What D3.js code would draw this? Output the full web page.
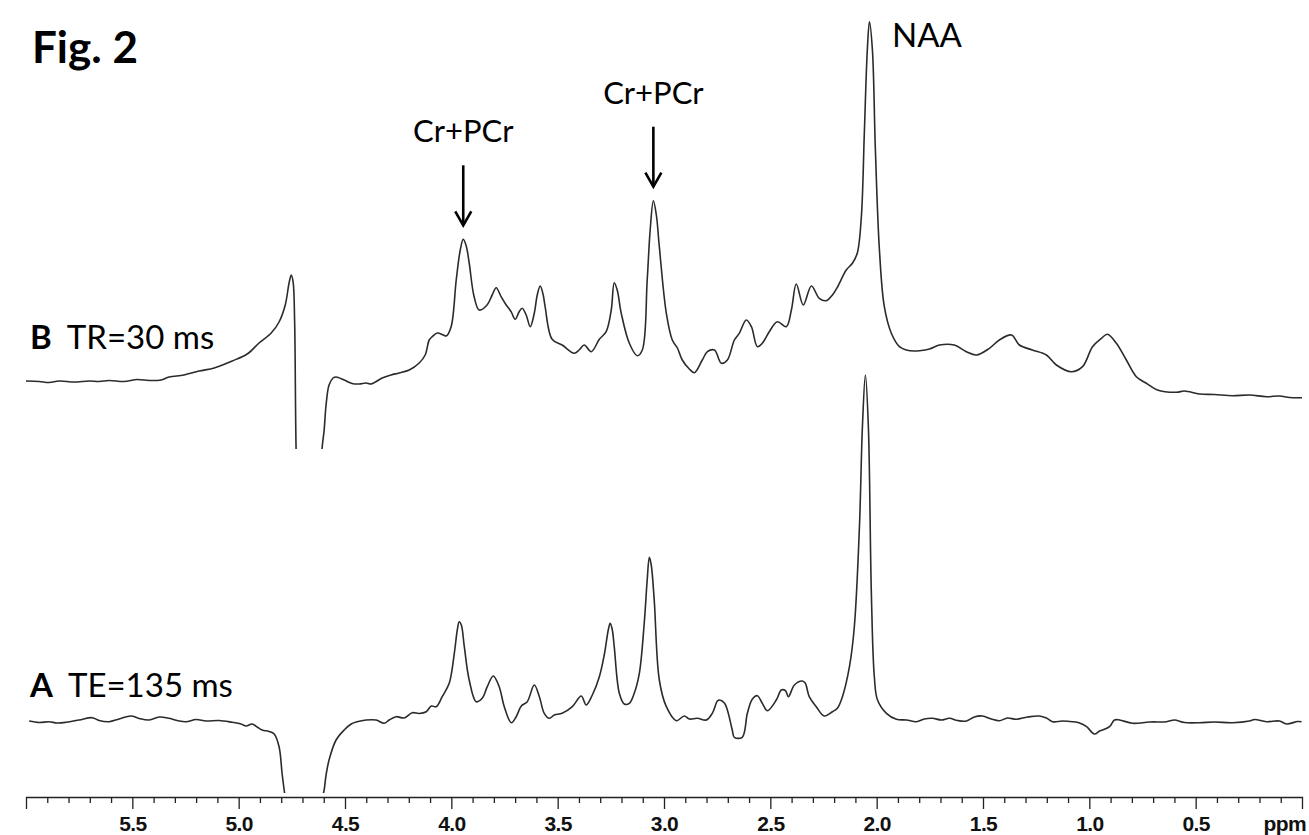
<!DOCTYPE html>
<html>
<head>
<meta charset="utf-8">
<script src="https://cdn.jsdelivr.net/npm/d3@7"></script>
<style>
  body { margin: 0; background: #fff; }
  svg { display: block; }
  .lbl { font-family: Lato, "Open Sans", sans-serif; fill: #000; }
  .axis text { font-family: "Liberation Sans Narrow", "Liberation Sans", Arial, sans-serif; font-weight: bold; font-size: 21px; letter-spacing: -0.6px; fill: #111; }
  .axis path, .axis line { stroke: #222; stroke-width: 1.3; }
</style>
</head>
<body>
<script>
  "use strict";

  /***** Data *****/
  // chemical shift (ppm) / intensity (a.u.) pairs, spectrum B (TR=30 ms)
  var specB = [
    [6.000,16.5],[5.938,16],[5.891,15],[5.844,16.5],[5.774,15.5],[5.703,16.5],[5.656,16],[5.609,17],
    [5.539,16],[5.477,18],[5.421,17],[5.365,17.5],[5.327,20.5],[5.257,22.5],[5.186,26.5],[5.115,29.5],
    [5.031,36.5],[4.960,43.5],[4.904,54.5],[4.847,64.5],[4.810,75.5],[4.781,92.5],[4.763,114.5],
    [4.753,122.5],[4.744,115.5],[4.737,77.5],[4.730,-51.5],[4.720,-122],[4.670,-160],[4.620,-122],
    [4.608,-51.5],[4.598,-32.5],[4.589,-7.5],[4.575,12.5],[4.556,19.5],[4.542,20.5],[4.504,17.5],
    [4.467,14],[4.433,13.5],[4.401,14.5],[4.377,13.5],[4.325,19.5],[4.283,22.5],[4.246,24.5],
    [4.198,27.5],[4.151,34.5],[4.123,42.5],[4.104,57.5],[4.090,60.8],[4.066,64.5],[4.038,62.5],
    [4.024,61.5],[4.001,70.8],[3.977,117.5],[3.958,147.5],[3.944,158.2],[3.930,151.5],[3.916,134.5],
    [3.893,100.8],[3.869,87.5],[3.832,92.5],[3.808,102.5],[3.789,109.8],[3.766,100.8],[3.742,92.5],
    [3.719,85.8],[3.700,78.2],[3.681,85.8],[3.667,89.2],[3.648,82.5],[3.629,70.8],[3.610,84.2],
    [3.596,102.5],[3.582,111.5],[3.568,102.5],[3.559,90.8],[3.526,58.2],[3.479,52.5],[3.422,44.2],
    [3.399,47.5],[3.375,52.5],[3.342,45.8],[3.304,58.2],[3.272,65.8],[3.248,87.5],[3.234,114.8],
    [3.220,107.5],[3.201,84.2],[3.163,54.2],[3.126,41.8],[3.102,47.5],[3.079,117.5],[3.065,167.5],
    [3.050,196.8],[3.036,182.5],[3.022,150.8],[2.989,84.2],[2.961,57.5],[2.937,49.5],[2.914,37.5],
    [2.881,28.5],[2.857,24.8],[2.820,37.5],[2.796,45.8],[2.763,47.5],[2.730,34.2],[2.702,37.5],
    [2.669,57.5],[2.646,64.2],[2.613,77.5],[2.589,70.8],[2.561,50.8],[2.538,54.2],[2.505,65.8],
    [2.467,75.8],[2.425,70.8],[2.401,87.5],[2.378,113.5],[2.345,92.5],[2.307,111.5],[2.270,99.2],
    [2.237,96.8],[2.208,102.5],[2.185,110.2],[2.143,127.5],[2.114,134.2],[2.091,144.5],[2.072,180.8],
    [2.058,264.5],[2.044,347.5],[2.034,375.8],[2.020,347.5],[2.006,247.5],[1.987,147.5],[1.964,90.8],
    [1.931,64.2],[1.893,50.8],[1.860,47.5],[1.823,46.5],[1.799,46.8],[1.752,48.5],[1.705,52.5],
    [1.635,52.5],[1.578,45.8],[1.531,42.5],[1.470,49.2],[1.423,57.5],[1.366,62.5],[1.329,52.5],
    [1.268,47.5],[1.202,42.5],[1.155,32.5],[1.084,25.8],[1.032,30.8],[0.985,50.8],[0.943,59.2],
    [0.915,63.2],[0.873,54.2],[0.826,37.5],[0.779,20.8],[0.732,14.2],[0.680,7.5],[0.590,5.2],
    [0.553,6.5],[0.482,3.5],[0.412,3],[0.327,1.8],[0.247,2.5],[0.167,0.8],[0.106,1.5],[0.059,0],
    [0.000,-0.2]
  ];

  // spectrum A (TE=135 ms)
  var specA = [
    [5.985,1],[5.938,-0.5],[5.891,0.3],[5.854,-1],[5.811,-0.3],[5.750,2],[5.689,4.3],[5.656,1.5],
    [5.609,0.3],[5.562,3],[5.506,6],[5.468,3.5],[5.421,2],[5.374,5],[5.327,3.7],[5.280,1],
    [5.247,0.3],[5.200,2.5],[5.153,1],[5.092,1.5],[5.031,-0.3],[4.989,-2],[4.965,-4],[4.937,-2],
    [4.913,-5],[4.890,-8],[4.857,-9.5],[4.833,-12],[4.810,-24.7],[4.796,-51],[4.786,-68],[4.779,-78],
    [4.716,-150],[4.645,-150],[4.608,-78],[4.598,-68],[4.589,-53],[4.575,-38],[4.542,-18],[4.504,-8],
    [4.471,-2],[4.443,0.3],[4.401,2],[4.354,2],[4.316,-1.3],[4.292,2],[4.259,5.3],[4.222,4],
    [4.184,9.3],[4.151,8.5],[4.118,10.3],[4.094,16],[4.071,15.3],[4.043,25.3],[4.010,38.7],
    [3.986,68.7],[3.972,92],[3.963,100.3],[3.953,97],[3.939,75.3],[3.916,42],[3.883,20.3],
    [3.855,23.7],[3.831,35.3],[3.803,46],[3.775,35.3],[3.751,15.3],[3.718,-0.7],[3.695,5.3],
    [3.671,16],[3.643,20.3],[3.610,37],[3.586,25.3],[3.563,8.7],[3.539,3.7],[3.516,7],[3.479,8.7],
    [3.431,15.3],[3.389,26],[3.366,17],[3.337,27],[3.304,45.3],[3.281,67],[3.262,92],[3.253,98.7],
    [3.243,92],[3.234,75.3],[3.210,28.7],[3.187,18],[3.163,18.7],[3.140,28.7],[3.116,48.7],
    [3.093,98.7],[3.079,142],[3.069,164.7],[3.060,157],[3.046,122],[3.022,42],[2.989,15.3],
    [2.942,1.3],[2.905,6],[2.881,3],[2.843,3.7],[2.801,2],[2.773,8.7],[2.749,21],[2.740,22],
    [2.716,19],[2.702,12],[2.679,-8],[2.669,-15.3],[2.632,-15.3],[2.608,8.7],[2.585,22.7],
    [2.561,26.3],[2.538,18.7],[2.514,11.3],[2.472,22],[2.448,32],[2.429,31.3],[2.415,25.3],
    [2.387,37],[2.350,41],[2.336,39],[2.317,25.3],[2.284,15.3],[2.246,6],[2.208,10.3],[2.185,13.7],
    [2.161,25.3],[2.128,55.3],[2.105,95.3],[2.081,195.3],[2.067,295.3],[2.053,347],[2.039,295.3],
    [2.025,129],[2.011,45.3],[1.996,22],[1.954,8.7],[1.907,2.7],[1.860,2],[1.813,0.3],[1.776,3],
    [1.738,3.7],[1.696,2],[1.658,3.7],[1.620,1.5],[1.578,1],[1.541,5],[1.503,6],[1.461,3],
    [1.423,1.3],[1.385,4],[1.343,2.7],[1.291,5],[1.235,6],[1.202,4],[1.173,0.3],[1.126,1],
    [1.079,0.3],[1.046,-1],[1.013,-4.7],[0.976,-12],[0.952,-9],[0.938,-8],[0.905,-4.7],[0.882,2],
    [0.858,2],[0.797,-1.3],[0.717,0],[0.637,0.3],[0.600,2],[0.553,-0.5],[0.482,-0.7],[0.412,0],
    [0.327,-0.7],[0.247,1],[0.223,2.5],[0.167,0.3],[0.106,1],[0.073,-2],[0.021,0.5],[0.002,0.3]
  ];

  var majorTicks = [5.5, 5.0, 4.5, 4.0, 3.5, 3.0, 2.5, 2.0, 1.5, 1.0, 0.5];
  var spectra = [
    { key: "B", name: "TR=30 ms", data: specB },
    { key: "A", name: "TE=135 ms", data: specA }
  ];
  // arrowed peaks on spectrum B
  var crPeaks = [3.944, 3.050];
  var crHeights = [158.2, 196.8];

  /***** Configuration *****/
  var width = 1309, height = 835;
  var baseline = { B: 397.5, A: 722 };   // y of each trace's zero level
  var clipBottom = { B: 449, A: 793 };    // traces run off-scale below these
  var axisY = 797;

  var x = d3.scaleLinear().domain([6.0, 0]).range([26, 1302]);
  var y = d3.scaleLinear().domain([0, 100]).range([0, -100]);

  var svg = d3.select("body").append("svg")
    .attr("width", width)
    .attr("height", height);

  var defs = svg.append("defs");

  var line = d3.line()
    .x(function(d) { return x(d[0]); })
    .y(function(d) { return y(d[1]); })
    .curve(d3.curveCatmullRom.alpha(0.5));

  /***** Traces *****/
  spectra.forEach(function(s) {
    defs.append("clipPath")
      .attr("id", "clip" + s.key)
      .append("rect")
      .attr("x", 0)
      .attr("y", -baseline[s.key])
      .attr("width", width)
      .attr("height", clipBottom[s.key]);

    var g = svg.append("g")
      .attr("transform", "translate(0," + baseline[s.key] + ")");

    g.append("path")
      .datum(s.data.slice().sort(function(a, b) { return a[0] - b[0]; }))
      .attr("clip-path", "url(#clip" + s.key + ")")
      .attr("fill", "none")
      .attr("stroke", "#2b2b2b")
      .attr("stroke-width", 1.6)
      .attr("d", line);
  });

  /***** Axis *****/
  var minorTicks = d3.range(1, 60).map(function(i) { return i / 10; })
    .filter(function(v) { return Math.abs(v * 2 - Math.round(v * 2)) > 1e-6; });

  svg.append("g")
    .attr("class", "axis")
    .attr("transform", "translate(0," + axisY + ")")
    .call(d3.axisBottom(x).tickValues(minorTicks).tickSize(6).tickSizeOuter(0).tickFormat(""))
    .call(function(g) { g.select(".domain").remove(); });

  var ax = svg.append("g")
    .attr("class", "axis")
    .attr("transform", "translate(0," + axisY + ")")
    .call(d3.axisBottom(x).tickValues(majorTicks).tickSize(12).tickSizeOuter(12)
      .tickFormat(d3.format(".1f")).tickPadding(7));

  ax.append("text")
    .attr("x", 1306)
    .attr("y", 19)
    .attr("dy", "0.71em")
    .attr("text-anchor", "end")
    .text("ppm");

  /***** Labels *****/
  svg.append("text")
    .attr("class", "lbl")
    .attr("x", 32).attr("y", 63)
    .style("font-size", "44px").style("font-weight", "bold")
    .text("Fig. 2");

  var labelY = { B: 349, A: 697 };
  spectra.forEach(function(s) {
    var t = svg.append("text")
      .attr("class", "lbl")
      .attr("x", 30).attr("y", labelY[s.key])
      .style("font-size", "33px");
    t.append("tspan").style("font-weight", "bold").text(s.key);
    t.append("tspan").attr("dx", 15).text(s.name);
  });

  // Cr+PCr arrows
  crPeaks.forEach(function(p, i) {
    var tip = baseline.B + y(crHeights[i] + 14);
    var px = x(p);
    var g = svg.append("g").attr("stroke", "#000").attr("stroke-width", 2.6).attr("fill", "none");
    g.append("line").attr("x1", px).attr("x2", px).attr("y1", tip - 60).attr("y2", tip);
    g.append("path").attr("d", "M" + (px - 8) + "," + (tip - 14) + "L" + px + "," + tip + "L" + (px + 8) + "," + (tip - 14));
    svg.append("text")
      .attr("class", "lbl")
      .attr("x", px).attr("y", tip - 83)
      .attr("text-anchor", "middle")
      .style("font-size", "31px")
      .text("Cr+PCr");
  });

  svg.append("text")
    .attr("class", "lbl")
    .attr("x", 892).attr("y", 47)
    .style("font-size", "33px")
    .text("NAA");
</script>
</body>
</html>
